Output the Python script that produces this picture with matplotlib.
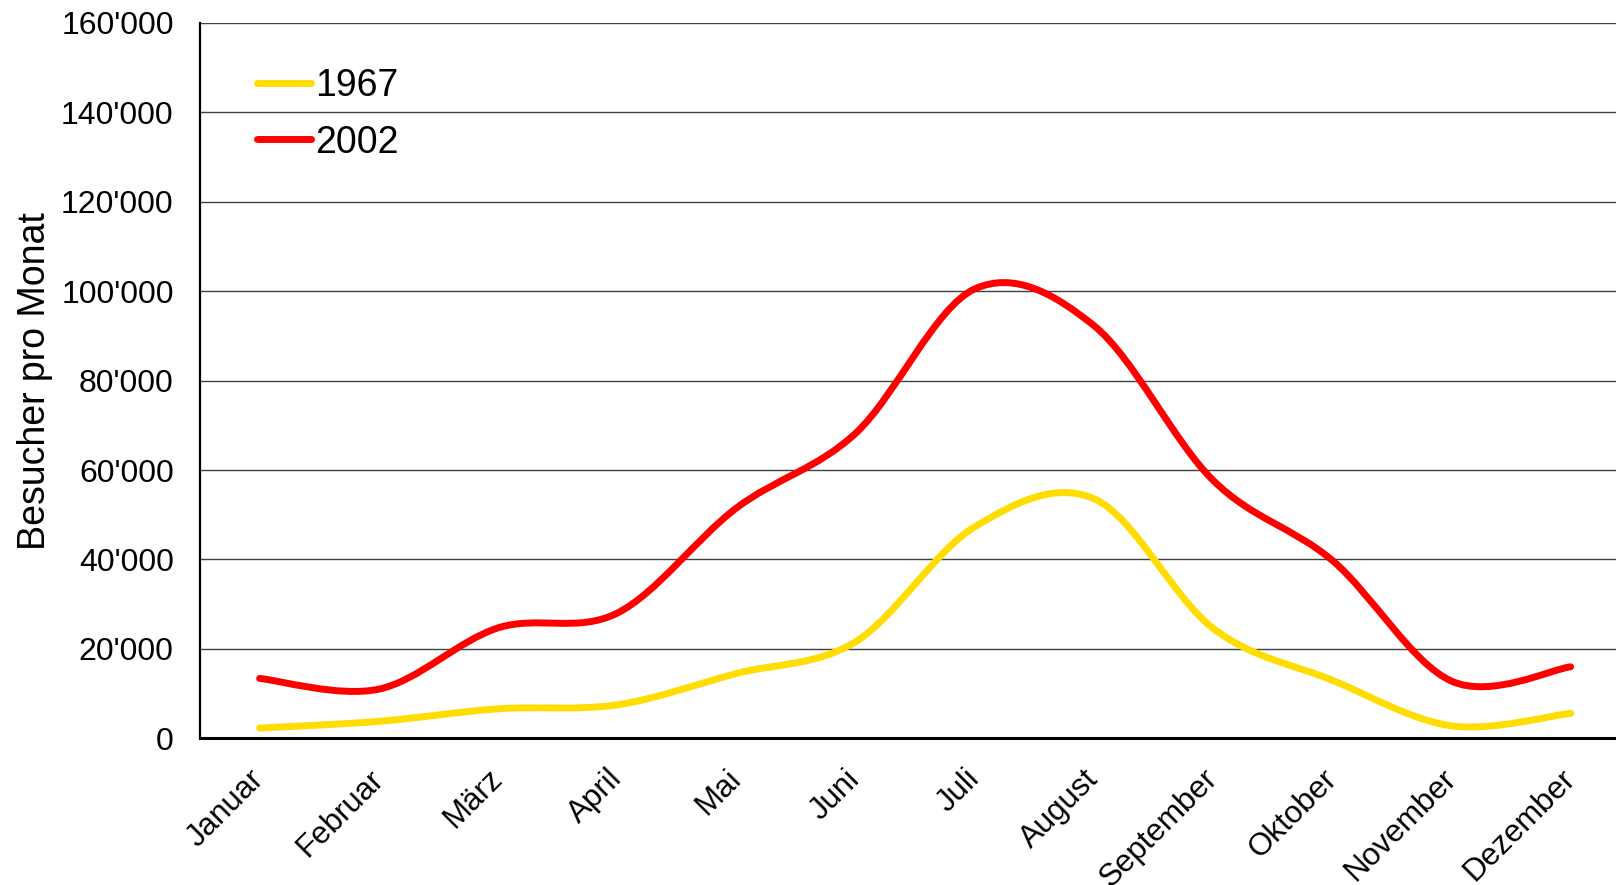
"""
Besucher pro Monat, 1967 vs. 2002
=================================
"""

import matplotlib
matplotlib.use("Agg")
import matplotlib.pyplot as plt
from matplotlib.path import Path
from matplotlib.patches import PathPatch
from matplotlib.lines import Line2D
from matplotlib.ticker import FuncFormatter, MultipleLocator

plt.rcParams["font.family"] = ["Liberation Sans", "DejaVu Sans"]

MONTHS = ["Januar", "Februar", "März", "April", "Mai", "Juni", "Juli",
          "August", "September", "Oktober", "November", "Dezember"]
VISITORS_1967 = [2300, 3800, 6600, 7500, 14500, 21600, 47300, 53600,
                 24600, 13000, 2800, 5600]
VISITORS_2002 = [13400, 11000, 24700, 28000, 51500, 68200, 100500, 92300,
                 57700, 39800, 12800, 16000]

COLOR_1967 = "#FFDD00"
COLOR_2002 = "#FF0000"
LW = 5.0


def smooth_path(xs, ys):
    # Excel-like smoothed line: cubic Bezier through every data point
    n = len(xs)
    verts = [(xs[0], ys[0])]
    codes = [Path.MOVETO]
    for i in range(n - 1):
        p0 = max(i - 1, 0)
        p3 = min(i + 2, n - 1)
        c1 = (xs[i] + (xs[i + 1] - xs[p0]) / 6, ys[i] + (ys[i + 1] - ys[p0]) / 6)
        c2 = (xs[i + 1] - (xs[p3] - xs[i]) / 6, ys[i + 1] - (ys[p3] - ys[i]) / 6)
        verts += [c1, c2, (xs[i + 1], ys[i + 1])]
        codes += [Path.CURVE4] * 3
    return Path(verts, codes)


def main():
    fig = plt.figure(figsize=(16.16, 8.85), dpi=100)
    # the plot area runs past the right edge of the figure, as in the original
    ax = fig.add_axes([0.1238, 0.1657, 0.885, 0.8085])

    x = list(range(len(MONTHS)))
    for ys, color in [(VISITORS_1967, COLOR_1967), (VISITORS_2002, COLOR_2002)]:
        patch = PathPatch(smooth_path(x, ys), fill=False, edgecolor=color,
                          lw=LW, capstyle="round", joinstyle="round", zorder=3)
        ax.add_patch(patch)

    ax.set_xlim(-0.5, len(MONTHS) - 0.5)
    ax.set_ylim(0, 160000)
    ax.yaxis.set_major_locator(MultipleLocator(20000))
    ax.yaxis.set_major_formatter(
        FuncFormatter(lambda v, _: f"{int(v):,}".replace(",", "'")))
    ax.grid(axis="y", color="#404040", lw=1.0)
    ax.set_axisbelow(True)

    ax.set_xticks(x)
    ax.set_xticklabels(MONTHS, rotation=45, ha="right", va="center",
                       rotation_mode="anchor", fontsize=22.5)
    ax.tick_params(axis="x", length=0, pad=26)
    ax.tick_params(axis="y", length=0, pad=19, labelsize=23)

    for side in ["top", "right"]:
        ax.spines[side].set_visible(False)
    ax.spines["left"].set_linewidth(1.6)
    ax.spines["bottom"].set_linewidth(2.2)

    ax.set_ylabel("Besucher pro Monat", fontsize=27, labelpad=6)

    handles = [Line2D([], [], color=COLOR_1967, lw=LW, solid_capstyle="round"),
               Line2D([], [], color=COLOR_2002, lw=LW, solid_capstyle="round")]
    ax.legend(handles, ["1967", "2002"], loc="upper left", frameon=False,
              fontsize=27, handlelength=1.45, handletextpad=0.1,
              labelspacing=0.55, borderaxespad=0,
              bbox_to_anchor=(0.029, 0.958))

    fig.savefig("out.png", dpi=100)


if __name__ == "__main__":
    main()
